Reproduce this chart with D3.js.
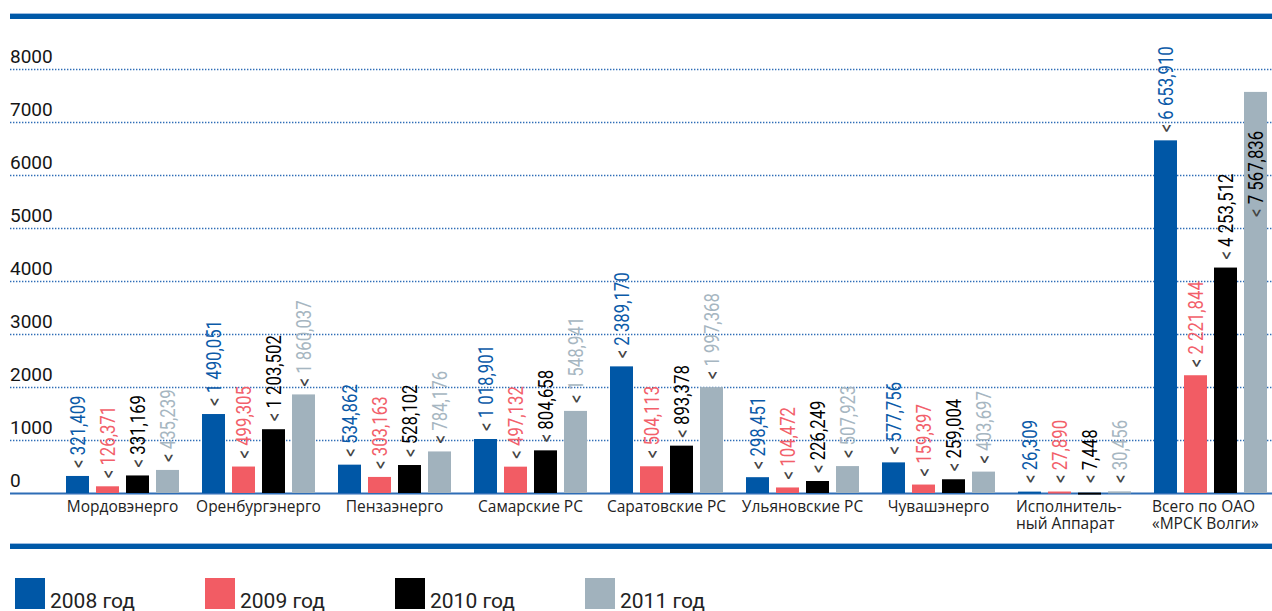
<!DOCTYPE html>
<html>
<head>
<meta charset="utf-8">
<script src="https://cdn.jsdelivr.net/npm/d3@7"></script>
<style>
  body { margin: 0; background: #fff; }
  svg { display: block; font-family: Roboto, "Open Sans", sans-serif; }
</style>
</head>
<body>
<div id="chart"></div>
<script>
// data
var categories = [["Мордовэнерго"], ["Оренбургэнерго"], ["Пензаэнерго"], ["Самарские РС"],
  ["Саратовские РС"], ["Ульяновские РС"], ["Чувашэнерго"], ["Исполнитель-", "ный Аппарат"],
  ["Всего по ОАО", "«МРСК Волги»"]];
var years = ["2008 год", "2009 год", "2010 год", "2011 год"];
var v2008 = [321.409, 1490.051, 534.862, 1018.901, 2389.170, 298.451, 577.756, 26.309, 6653.910];
var v2009 = [126.371, 499.305, 303.163, 497.132, 504.113, 104.472, 159.397, 27.890, 2221.844];
var v2010 = [331.169, 1203.502, 528.102, 804.658, 893.378, 226.249, 259.004, 7.448, 4253.512];
var v2011 = [435.239, 1860.037, 784.176, 1548.941, 1997.368, 507.923, 403.697, 30.456, 7567.836];
var yTicks = [0, 1000, 2000, 3000, 4000, 5000, 6000, 7000, 8000];

var series = [v2008, v2009, v2010, v2011];
var barColors = ["#0057a6", "#f25c64", "#000000", "#a1b2bd"];
var labelColors = ["#0b5aa8", "#f2606a", "#000000", "#a6b6c1"];

var W = 1272, H = 611;
var svg = d3.select("#chart").append("svg").attr("width", W).attr("height", H);

var y = d3.scaleLinear().domain([0, 8000]).range([493, 69]);
var x0 = d3.scaleBand().domain(d3.range(categories.length)).range([66, 1267])
  .paddingInner(23 / 136).paddingOuter(0);
var x1 = d3.scaleBand().domain(d3.range(years.length)).range([0, x0.bandwidth()])
  .paddingInner(7 / 30).paddingOuter(0);

// top and bottom bands
[13, 543].forEach(function(t) {
  svg.append("rect").attr("x", 10).attr("y", t).attr("width", W - 10).attr("height", 6).attr("fill", "#0059a8");
  svg.append("rect").attr("x", 10).attr("y", t).attr("width", W - 10).attr("height", 1).attr("fill", "#9dbde2");
});

// grid + y axis
var axis = d3.axisLeft(y).tickValues(yTicks).tickSize(-(W - 10)).tickFormat(function(d) { return d; });
var ga = svg.append("g").attr("transform", "translate(10,0)").call(axis);
ga.select(".domain").remove();
ga.selectAll(".tick line")
  .attr("stroke", "#2e6db6")
  .attr("stroke-width", 1.3)
  .attr("stroke-dasharray", function(d) { return d === 0 ? null : "1.4,1.6"; })
  .attr("stroke-width", function(d) { return d === 0 ? 2 : 1.3; });
ga.selectAll(".tick text")
  .attr("x", 0).attr("dy", -7).attr("text-anchor", "start")
  .attr("font-size", 19).attr("font-family", "Roboto, sans-serif").attr("fill", "#151515");

// bars
var groups = svg.append("g").selectAll("g").data(categories).join("g")
  .attr("transform", function(d, i) { return "translate(" + x0(i) + ",0)"; });

var fmt = d3.formatLocale({ decimal: ",", thousands: " ", grouping: [3], currency: ["", ""] }).format(",.3f");

groups.each(function(c, ci) {
  var g = d3.select(this);
  series.forEach(function(s, si) {
    var v = s[ci];
    var bx = x1(si), top = y(v);
    g.append("rect").attr("x", bx).attr("y", top).attr("width", x1.bandwidth())
      .attr("height", Math.max(y(0) - top, 2)).attr("fill", barColors[si]);

    var cx = bx + x1.bandwidth() / 2;
    var inside = top - 8 - 90 < 20;
    var ly = inside ? top + 125 : Math.min(top, y(0) - 2) - 8;
    var t = g.append("text")
      .attr("transform", "translate(" + (cx + 0.5) + "," + ly + ") rotate(-90) scale(0.86,1)")
      .attr("dy", "0.36em").attr("font-size", 19.5)
      .attr("fill", inside ? "#000" : labelColors[si]);
    t.append("tspan").attr("fill", "#444").text("<");
    t.append("tspan").text(" " + fmt(v));
  });

  var lbl = g.append("text").attr("font-size", 15.5).attr("fill", "#222")
    .attr("font-family", "'Open Sans', sans-serif");
  if (c.length === 1) {
    lbl.attr("text-anchor", "middle").attr("x", x0.bandwidth() / 2).attr("y", 512).text(c[0]);
  } else {
    c.forEach(function(line, li) {
      lbl.append("tspan").attr("x", -2).attr("y", 512 + li * 17).text(line);
    });
  }
});

// legend
var lg = svg.append("g").selectAll("g").data(years).join("g")
  .attr("transform", function(d, i) { return "translate(" + (15 + i * 190) + ",578)"; });
lg.append("rect").attr("width", 30).attr("height", 31).attr("fill", function(d, i) { return barColors[i]; });
lg.append("text").attr("x", 35).attr("y", 30).attr("font-size", 21).attr("fill", "#222")
  .attr("font-family", "Roboto, sans-serif").text(function(d) { return d; });
</script>
</body>
</html>
